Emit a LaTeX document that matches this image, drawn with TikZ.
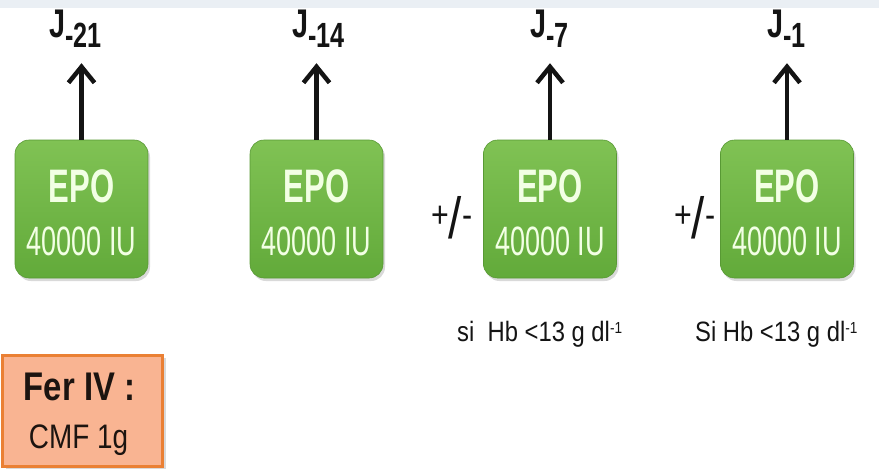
\documentclass[tikz,border=0pt]{standalone}
\usepackage{fontspec}
\setmainfont{Liberation Sans}
\newfontfamily\epoF{Liberation Sans}[FakeStretch=0.66]
\newfontfamily\jF{Liberation Sans}[FakeStretch=0.72]
\newfontfamily\ferF{Liberation Sans}[FakeStretch=0.82]
\newfontfamily\hbF{Liberation Sans}[FakeStretch=0.85]
\usetikzlibrary{arrows.meta,shadows}
\definecolor{epotop}{RGB}{128,194,84}
\definecolor{epobot}{RGB}{98,170,58}
\definecolor{epotxt}{RGB}{242,255,228}
\definecolor{ferfill}{RGB}{249,180,146}
\definecolor{ferline}{RGB}{234,128,52}
\definecolor{fertxt}{RGB}{28,20,16}
\definecolor{band}{RGB}{234,239,244}
\definecolor{ink}{RGB}{20,20,20}
\begin{document}
\begin{tikzpicture}[x=1pt,y=-1pt,
  epobox/.style={rectangle, rounded corners=14pt, minimum width=133pt, minimum height=138pt,
     top color=epotop, bottom color=epobot, draw=epobot!90!black, line width=0.6pt,
     drop shadow={opacity=0.30, shadow xshift=2pt, shadow yshift=-3pt}},
  epoA/.style={text=epotxt, inner sep=0pt, font=\epoF\bfseries\fontsize{47}{47}\selectfont},
  epoB/.style={text=epotxt, inner sep=0pt, font=\epoF\fontsize{41}{41}\selectfont},
  jlab/.style={text=ink, inner sep=0pt, anchor=base west, font=\jF\bfseries\fontsize{40}{40}\selectfont},
  arr/.style={draw=ink, line width=4.5pt, -{Straight Barb[length=16pt,width=26pt]}, shorten >=16pt},
  pm/.style={text=ink, inner sep=0pt, anchor=base west, font=\ferF\fontsize{37}{37}\selectfont},
  hb/.style={text=ink, inner sep=0pt, anchor=base west, font=\hbF\fontsize{28}{28}\selectfont},
  ferbox/.style={rectangle, minimum width=160pt, minimum height=111pt, fill=ferfill, draw=ferline,
     line width=3pt, drop shadow={opacity=0.30, shadow xshift=3pt, shadow yshift=-2pt}},
  ferA/.style={text=fertxt, inner sep=0pt, font=\ferF\bfseries\fontsize{40}{40}\selectfont},
  ferB/.style={text=fertxt, inner sep=0pt, font=\ferF\fontsize{34}{34}\selectfont}
]
\useasboundingbox (0,0) rectangle (879,471);
\fill[band] (0,0) rectangle (879,8);

% EPO boxes
\node[epobox] (b1) at (81.5,209) {};
\node[epobox] (b2) at (316.5,209) {};
\node[epobox] (b3) at (550,209) {};
\node[epobox] (b4) at (787,209) {};
\foreach \b in {1,2,3,4}{
  \node[epoA, anchor=base] (e\b) at ([yshift=7pt]b\b.center) {EPO};
  \node[epoB, anchor=base] (u\b) at ([yshift=-46pt]b\b.center) {40000 IU};
}

% J labels
\node[jlab] (j1) at (49,37) {J\raisebox{-10pt}{\fontsize{35}{35}\selectfont -21}};
\node[jlab] (j2) at (292,37) {J\raisebox{-10pt}{\fontsize{35}{35}\selectfont -14}};
\node[jlab] (j3) at (530,37) {J\raisebox{-10pt}{\fontsize{35}{35}\selectfont -7}};
\node[jlab] (j4) at (767,37) {J\raisebox{-10pt}{\fontsize{35}{35}\selectfont -1}};

% arrows
\foreach \b in {1,2,3,4}{
  \draw[arr] (b\b.north) -- (b\b.north |- j\b.south);
}

% +/- signs
\node[pm] (p3) at (431,227) {+\raisebox{-11pt}{\fontsize{58}{58}\selectfont /}-};
\node[pm] (p4) at (674,227) {+\raisebox{-11pt}{\fontsize{58}{58}\selectfont /}-};

% conditions
\node[hb] (c3) at (457,341) {si\ \ Hb <13 g dl\raisebox{8pt}{\fontsize{16}{16}\selectfont -1}};
\node[hb] (c4) at (695,341) {Si Hb <13 g dl\raisebox{8pt}{\fontsize{16}{16}\selectfont -1}};

% iron box
\node[ferbox] (fer) at (82.5,411) {};
\node[ferA, anchor=base] (f1) at ([yshift=11pt,xshift=-3pt]fer.center) {Fer IV :};
\node[ferB, anchor=base] (f2) at ([yshift=-37pt,xshift=-4pt]fer.center) {CMF 1g};
\end{tikzpicture}
\end{document}
